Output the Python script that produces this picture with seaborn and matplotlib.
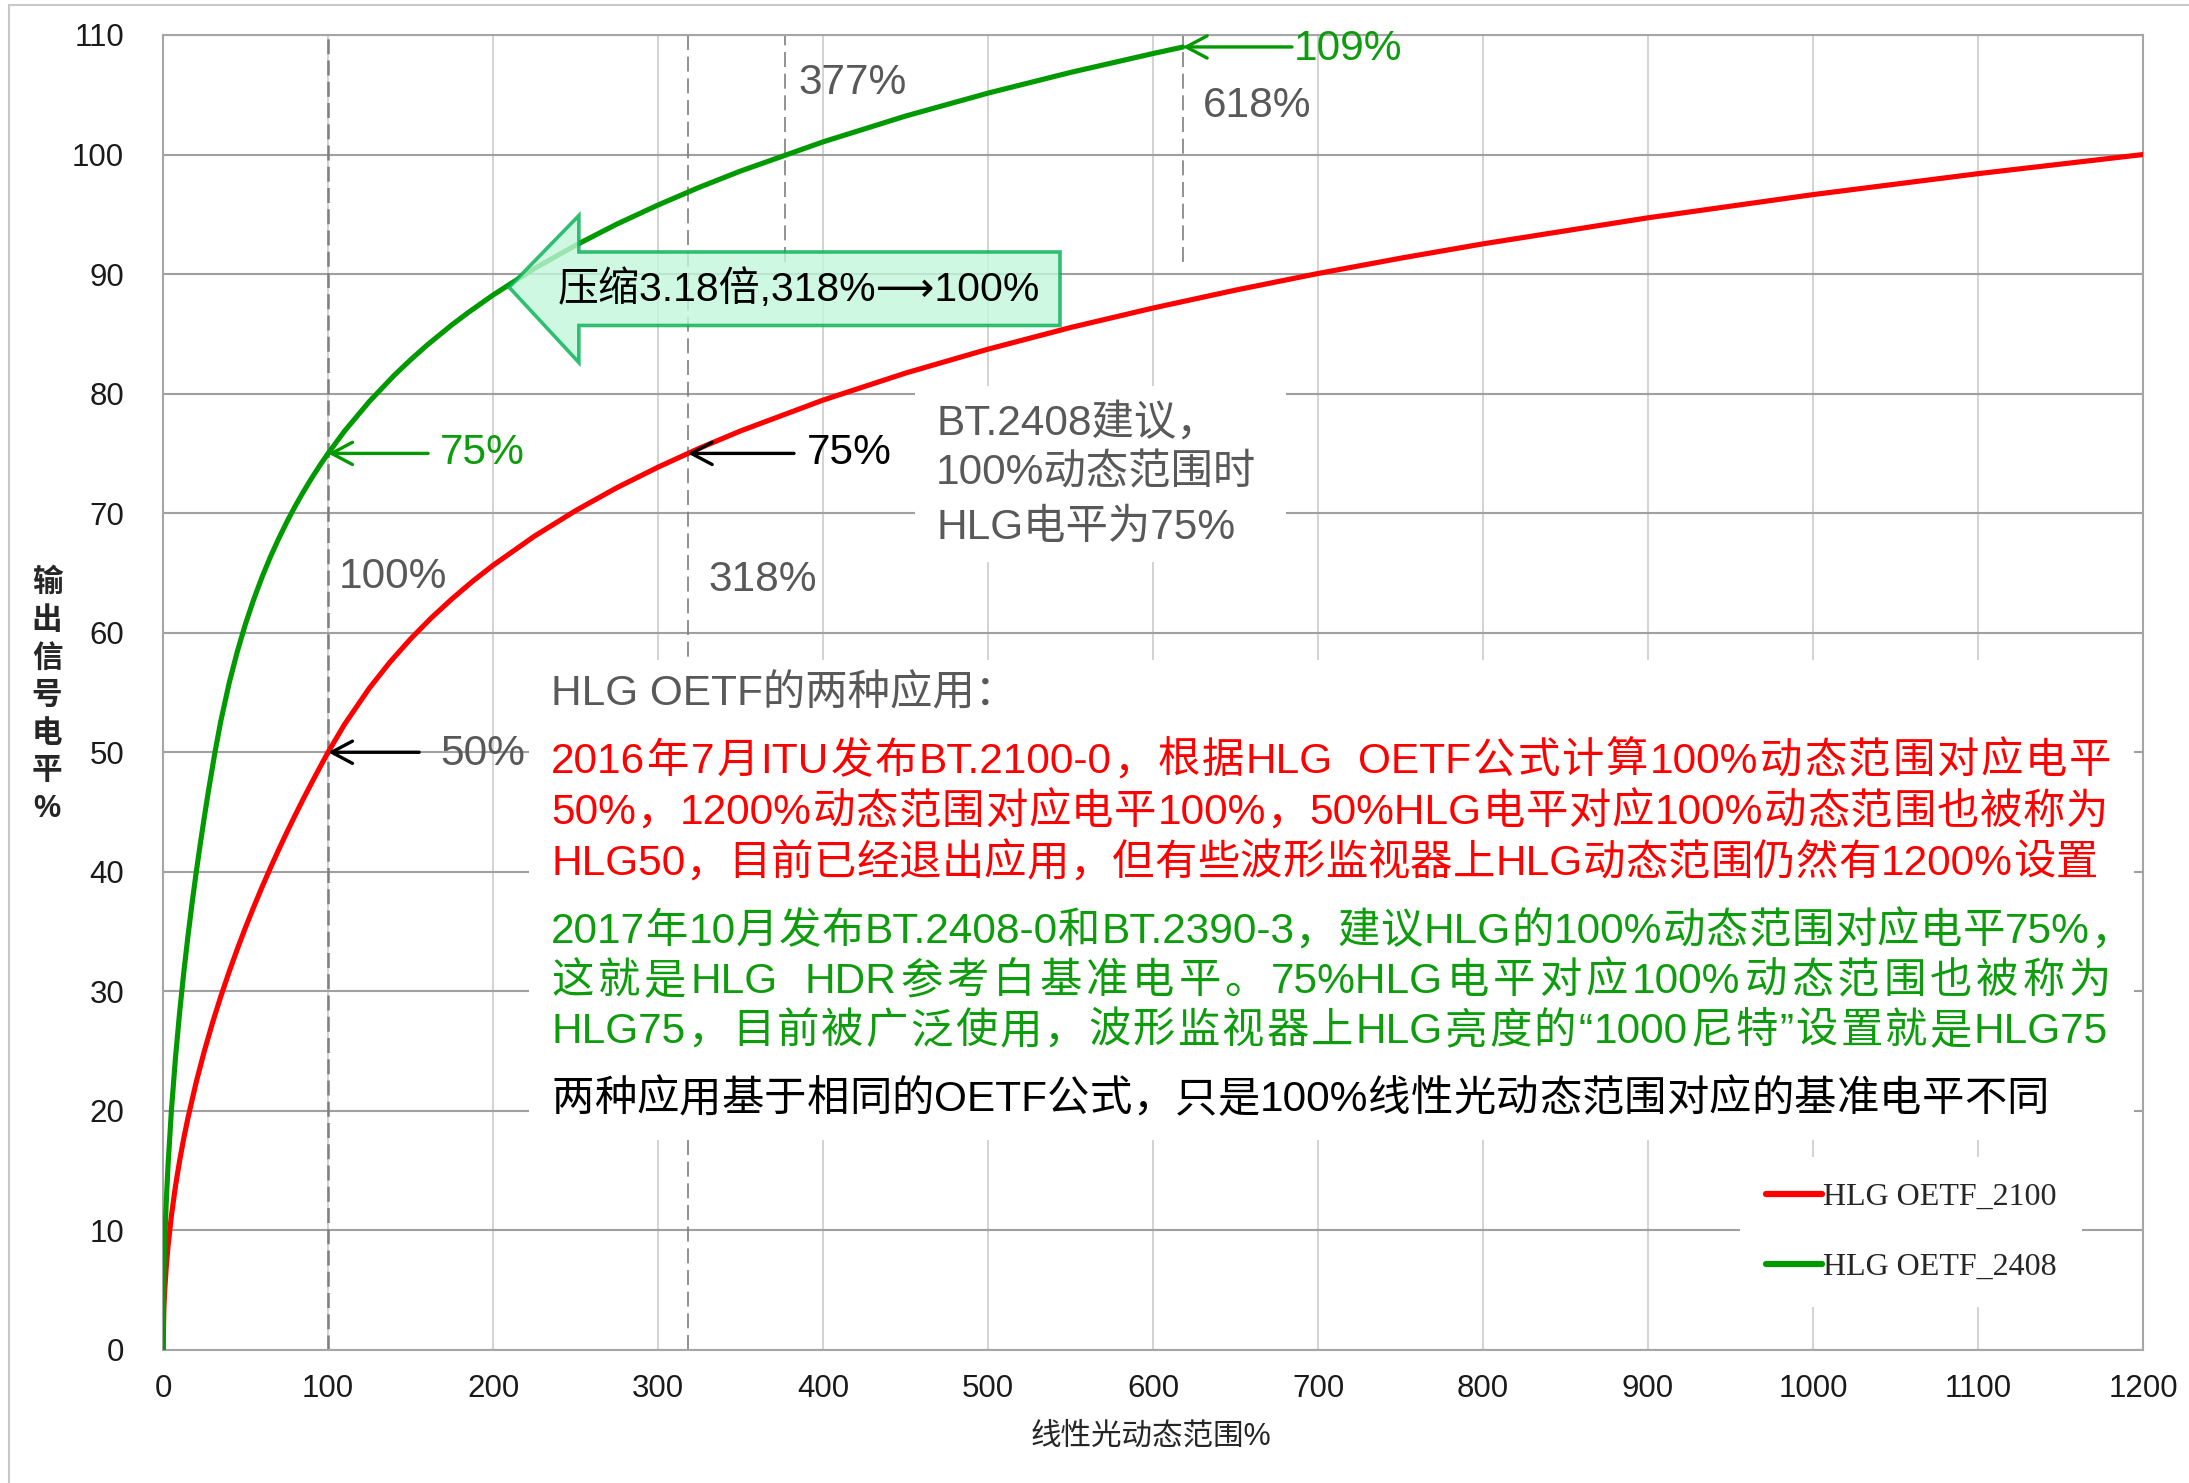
import re
import pandas as pd
import seaborn as sns
import matplotlib.pyplot as plt
from matplotlib.patches import Rectangle, Polygon
from matplotlib.lines import Line2D

# curve samples: linear light (%) -> output signal level (%)
x_2100 = [0, 0.5, 1, 2, 3, 5, 7.5, 10, 12.5, 15, 20, 25, 30, 35, 40, 45, 50, 55, 60, 65, 70,
          75, 80, 85, 90, 95, 100, 110, 125, 137.5, 150, 162.5, 175, 187.5, 200, 225, 250,
          275, 300, 325, 350, 400, 450, 500, 550, 600, 650, 700, 750, 800, 900, 1000, 1100, 1200]
y_2100 = [0, 3.54, 5.0, 7.07, 8.66, 11.18, 13.69, 15.81, 17.68, 19.36, 22.36, 25.0, 27.39,
          29.58, 31.62, 33.54, 35.36, 37.08, 38.73, 40.31, 41.83, 43.30, 44.72, 46.10, 47.43,
          48.73, 50.0, 52.34, 55.36, 57.54, 59.48, 61.23, 62.82, 64.29, 65.64, 68.07, 70.21,
          72.13, 73.85, 75.43, 76.88, 79.46, 81.72, 83.72, 85.53, 87.16, 88.66, 90.05, 91.33,
          92.53, 94.71, 96.65, 98.40, 100.0]
x_2408 = [0, 0.2, 0.5, 1, 1.5, 2, 3, 5, 7.5, 10, 12.5, 15, 17.5, 20, 22.5, 25, 27.5, 31.45,
          35, 40, 45, 50, 55, 60, 65, 70, 75, 80, 85, 90, 95, 100, 110, 125, 140, 150, 160,
          175, 185, 200, 225, 250, 275, 300, 325, 350, 400, 450, 500, 550, 600, 618]
y_2408 = [0, 3.99, 6.30, 8.92, 10.92, 12.61, 15.44, 19.94, 24.42, 28.20, 31.52, 34.53, 37.30,
          39.87, 42.29, 44.58, 46.76, 50.0, 52.62, 55.76, 58.43, 60.76, 62.81, 64.66, 66.33,
          67.85, 69.26, 70.57, 71.78, 72.92, 73.99, 75.0, 76.87, 79.34, 81.52, 82.83, 84.06,
          85.75, 86.79, 88.25, 90.46, 92.41, 94.18, 95.78, 97.26, 98.62, 101.06, 103.22,
          105.14, 106.87, 108.45, 108.99]
series_names = ['HLG OETF_2100', 'HLG OETF_2408']

# dashed reference lines: x position, y from, y to
ref_x = [100, 318, 377, 618]
ref_y0 = [0, 0, 91, 91]
ref_y1 = [110, 110, 110, 110]

x_ticks = list(range(0, 1201, 100))
y_ticks = list(range(0, 111, 10))

RED = '#ff0000'
GREEN = '#009a00'
GREEN_TXT = '#0c9c0c'
GRAY_TXT = '#595959'

sns.set_style('white')
plt.rcParams['font.family'] = ['Liberation Sans', 'Noto Sans CJK SC', 'DejaVu Sans']

fig, ax = plt.subplots(figsize=(21.89, 14.83), dpi=100)
fig.subplots_adjust(left=0.0745, right=0.979, bottom=0.0897, top=0.9764)

df = pd.concat([
    pd.DataFrame({'x': x_2100, 'y': y_2100, 'curve': series_names[0]}),
    pd.DataFrame({'x': x_2408, 'y': y_2408, 'curve': series_names[1]}),
])
sns.lineplot(data=df, x='x', y='y', hue='curve', hue_order=series_names,
             palette={series_names[0]: RED, series_names[1]: GREEN},
             estimator=None, sort=False, linewidth=3.7, ax=ax, zorder=3)

ax.set_xlim(0, 1200)
ax.set_ylim(0, 110)
ax.set_xticks(x_ticks)
ax.set_yticks(y_ticks)
ax.set_xlabel('')
ax.set_ylabel('')
ax.tick_params(axis='both', direction='out', length=9, width=1.5, color='#a0a0a0',
               labelsize=22.5, labelcolor='#1a1a1a')
ax.tick_params(axis='y', pad=19)
ax.tick_params(axis='x', pad=8)
ax.set_axisbelow(True)
ax.yaxis.grid(True, color='#a0a0a0', linewidth=1.5)
ax.xaxis.grid(True, color='#c8c8c8', linewidth=1.1)
for s in ax.spines.values():
    s.set_color('#a6a6a6')
    s.set_linewidth(1.5)

# dashed guides
for xv, y0, y1 in zip(ref_x, ref_y0, ref_y1):
    lw = 1.8 if xv == 100 else 1.2
    ax.plot([xv, xv], [y0, y1], color='#7f7f7f', lw=lw, dashes=(6, 2.5) if xv == 100 else (9, 4),
            zorder=1)

# white backgrounds for the text blocks
ax.add_patch(Rectangle((455.8, 65.9), 224.8, 14.7, facecolor='white', edgecolor='none', zorder=2))
ax.add_patch(Rectangle((221.8, 17.6), 973, 40.1, facecolor='white', edgecolor='none', zorder=2))

# block arrow "compress 3.18x"
arrow_pts = [(209.7, 88.9), (252, 94.9), (252, 91.85), (543.6, 91.85),
             (543.6, 85.7), (252, 85.7), (252, 82.6)]
ax.add_patch(Polygon(arrow_pts, closed=True, facecolor='#c4f7dc', alpha=0.8,
                     edgecolor='#00b050', linewidth=2.6, zorder=4))
ax.text(239.4, 88.7, '压缩3.18倍,318%⟶100%', fontsize=29.5, color='black',
        va='center', ha='left', zorder=5)


def arrow(x_head, y_head, x_tail, color):
    ax.annotate('', xy=(x_head, y_head), xytext=(x_tail, y_head),
                arrowprops=dict(arrowstyle='->,head_length=0.75,head_width=0.4', color=color,
                                lw=2.4, shrinkA=0, shrinkB=0, mutation_scale=20), zorder=5)


arrow(100, 75, 160.6, GREEN)
arrow(318, 75, 382.4, 'black')
arrow(100, 50, 155.2, 'black')
arrow(618, 109, 684.2, GREEN)

fs = 30.5
ax.text(167.9, 75, '75%', fontsize=fs, color=GREEN_TXT, va='center', zorder=5)
ax.text(390.3, 75, '75%', fontsize=fs, color='black', va='center', zorder=5)
ax.text(167.9, 49.85, '50%', fontsize=fs, color=GRAY_TXT, va='center', zorder=5)
ax.text(685, 108.8, '109%', fontsize=fs, color=GREEN_TXT, va='center', zorder=5)
ax.text(384.8, 106.0, '377%', fontsize=fs, color=GRAY_TXT, va='center', zorder=5)
ax.text(630.3, 104.1, '618%', fontsize=fs, color=GRAY_TXT, va='center', zorder=5)
ax.text(106.7, 64.7, '100%', fontsize=fs, color=GRAY_TXT, va='center', zorder=5)
ax.text(330.3, 64.4, '318%', fontsize=fs, color=GRAY_TXT, va='center', zorder=5)

bt_lines = ['BT.2408建议，', '100%动态范围时', 'HLG电平为75%']
for txt, yv in zip(bt_lines, [77.5, 73.3, 68.8]):
    ax.text(468.5, yv, txt, fontsize=fs, color=GRAY_TXT, va='center', zorder=5)

# text block, each line spread out to its right edge (pixels) like the original
renderer = fig.canvas.get_renderer()


def text_w(s, **kw):
    t = ax.text(0, 0, s, **kw)
    w = t.get_window_extent(renderer).width
    t.remove()
    return w


def draw_justified(x_data, y, s, right_px, **kw):
    x0 = ax.transData.transform((x_data, y))[0]
    tokens = [(m.start(), m.group()) for m in re.finditer(r'[A-Za-z0-9.%\-]+|\S', s)]
    bar = text_w('|', **kw)
    extra = (right_px - x0 - text_w(s, **kw)) / (len(tokens) - 1)
    inv = ax.transData.inverted()
    for i, (start, tok) in enumerate(tokens):
        off = text_w(s[:start] + '|', **kw) - bar if start else 0
        xd = inv.transform((x0 + off + i * extra, 0))[0]
        ax.text(xd, y, tok, **kw)


ax.text(235.2, 54.87, 'HLG OETF的两种应用：', fontsize=fs, color=GRAY_TXT, va='center', zorder=5)
block = [
    ('2016年7月ITU发布BT.2100-0，根据HLG  OETF公式计算100%动态范围对应电平', RED, 49.18, 2111),
    ('50%，1200%动态范围对应电平100%，50%HLG电平对应100%动态范围也被称为', RED, 44.92, 2108),
    ('HLG50，目前已经退出应用，但有些波形监视器上HLG动态范围仍然有1200%设置', RED, 40.65, 2098),
    ('2017年10月发布BT.2408-0和BT.2390-3，建议HLG的100%动态范围对应电平75%，', GREEN_TXT, 34.96, 2133),
    ('这就是HLG  HDR参考白基准电平。75%HLG电平对应100%动态范围也被称为', GREEN_TXT, 30.78, 2111),
    ('HLG75，目前被广泛使用，波形监视器上HLG亮度的“1000尼特”设置就是HLG75', GREEN_TXT, 26.6, 2108),
    ('两种应用基于相同的OETF公式，只是100%线性光动态范围对应的基准电平不同', 'black', 20.91, 2049),
]
for txt, col, yv, right in block:
    draw_justified(235.2, yv, txt, right, fontsize=fs, color=col, va='center', zorder=5)

# legend
handles, labels = ax.get_legend_handles_labels()
leg = ax.legend(handles, labels, loc='center', bbox_to_anchor=(0.883, 0.0895),
                frameon=True, facecolor='white', edgecolor='none', framealpha=1,
                fancybox=False, prop={'family': 'Liberation Serif', 'size': 23},
                handlelength=1.75, handletextpad=0.05, labelspacing=1.27, borderpad=0.8)
for h in leg.get_lines():
    h.set_linewidth(4.5)

# axis titles
ylab = '输出信号电平%'
for i, ch in enumerate(ylab):
    fig.text(47 / 2189, 1 - (583 + i * 37.7) / 1483, ch, fontsize=22, color='#262626',
             fontweight='bold', ha='center', va='center')
fig.text(1151 / 2189, 1 - 1437 / 1483, '线性光动态范围%', fontsize=22, color='#262626',
         ha='center', va='center')

# thin frame on the left and top of the picture
fig.add_artist(Line2D([9 / 2189, 9 / 2189], [0, 1 - 5 / 1483], color='#c8c8c8', lw=1.5))
fig.add_artist(Line2D([9 / 2189, 1], [1 - 5 / 1483, 1 - 5 / 1483], color='#c8c8c8', lw=1.5))

fig.savefig('out.png', dpi=100)
